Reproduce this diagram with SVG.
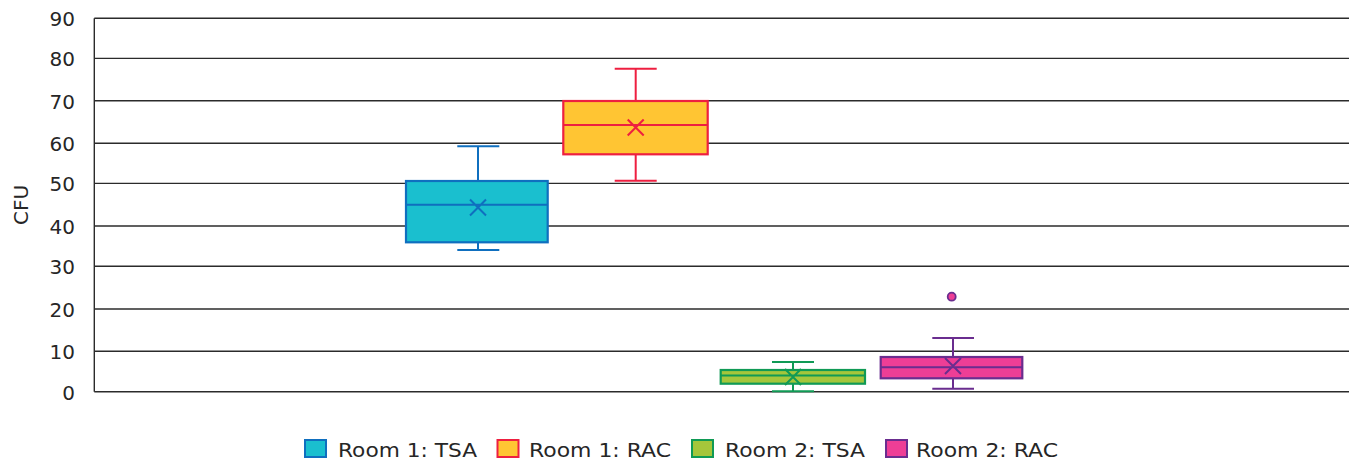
<svg xmlns="http://www.w3.org/2000/svg" width="1349" height="463" viewBox="0 0 1349 463">
<style>
.grid{stroke:#2b2b2b;stroke-width:1.4;fill:none}
.tick{font-family:"DejaVu Sans",Verdana,sans-serif;font-size:20px;fill:#262626;text-anchor:end}
.leg{font-family:"DejaVu Sans",Verdana,sans-serif;font-size:20px;fill:#262626}
.w{stroke-width:2;fill:none}
.b{stroke-width:2.2}
</style>
<rect width="1349" height="463" fill="#fff"/>
<g id="axes">
<line class="grid" x1="94.3" y1="18.3" x2="1349" y2="18.3"/>
<line class="grid" x1="94.3" y1="58.4" x2="1349" y2="58.4"/>
<line class="grid" x1="94.3" y1="100.7" x2="1349" y2="100.7"/>
<line class="grid" x1="94.3" y1="143.2" x2="1349" y2="143.2"/>
<line class="grid" x1="94.3" y1="183.4" x2="1349" y2="183.4"/>
<line class="grid" x1="94.3" y1="226" x2="1349" y2="226"/>
<line class="grid" x1="94.3" y1="266.2" x2="1349" y2="266.2"/>
<line class="grid" x1="94.3" y1="309" x2="1349" y2="309"/>
<line class="grid" x1="94.3" y1="351.2" x2="1349" y2="351.2"/>
<line class="grid" x1="94.3" y1="391.7" x2="1349" y2="391.7"/>
<line class="grid" x1="94.3" y1="18.3" x2="94.3" y2="391.7"/>
<text class="tick" x="75" y="26">90</text>
<text class="tick" x="75" y="66">80</text>
<text class="tick" x="75" y="108.5">70</text>
<text class="tick" x="75" y="151">60</text>
<text class="tick" x="75" y="191">50</text>
<text class="tick" x="75" y="233.5">40</text>
<text class="tick" x="75" y="274">30</text>
<text class="tick" x="75" y="316.5">20</text>
<text class="tick" x="75" y="358.5">10</text>
<text class="tick" x="75" y="399.5">0</text>
<text class="leg" transform="translate(27.5 205) rotate(-90)" text-anchor="middle" font-size="21">CFU</text>
</g>
<g id="room1-tsa">
<path class="w" stroke="#0f6fbf" d="M478 146.3V181M478 242.3V250M457.3 146.3H499.3M457.3 250H499.3"/>
<rect class="b" x="406" y="181" width="141.7" height="61.3" fill="#1abfcf" stroke="#0f6fbf"/>
<path class="w" stroke="#0f6fbf" d="M406 204.7H547.7M470 199.5L486 215.5M486 199.5L470 215.5"/>
</g>
<g id="room1-rac">
<path class="w" stroke="#ee1f40" d="M635.7 68.7V101M635.7 154.3V180.7M614.7 68.7H656.7M614.7 180.7H656.7"/>
<rect class="b" x="563.3" y="101" width="144.4" height="53.3" fill="#ffc533" stroke="#ee1f40"/>
<path class="w" stroke="#ee1f40" d="M563.3 125H707.7M627.7 119.5L643.7 135.5M643.7 119.5L627.7 135.5"/>
</g>
<g id="room2-tsa">
<path class="w" stroke="#109a55" d="M793 362V391.3M772 362H814M772 391.3H814"/>
<rect class="b" x="720.7" y="370" width="144.3" height="13.7" fill="#a5c63b" stroke="#109a55"/>
<path class="w" stroke="#109a55" d="M720.7 375.5H865M785 369L801 385M801 369L785 385"/>
</g>
<g id="room2-rac">
<path class="w" stroke="#6a2d8f" d="M953 338V357M953 378.3V388.7M932.3 338H974M932.3 388.7H974"/>
<rect class="b" x="880.7" y="357" width="141.6" height="21.3" fill="#ee3e96" stroke="#6a2d8f"/>
<path class="w" stroke="#6a2d8f" d="M880.7 367.3H1022.3M945 358L961 374M961 358L945 374"/>
<circle cx="951.7" cy="296.7" r="4" fill="#ee3e96" stroke="#6a2d8f" stroke-width="1.8"/>
</g>
<g id="legend">
<rect x="305" y="440" width="21" height="17" fill="#1abfcf" stroke="#0f6fbf" stroke-width="2"/>
<text class="leg" x="338" y="456.7" textLength="139" lengthAdjust="spacingAndGlyphs">Room 1: TSA</text>
<rect x="497.5" y="440" width="21" height="17" fill="#ffc533" stroke="#ee1f40" stroke-width="2"/>
<text class="leg" x="529" y="456.7" textLength="142" lengthAdjust="spacingAndGlyphs">Room 1: RAC</text>
<rect x="692" y="440" width="21" height="17" fill="#a5c63b" stroke="#109a55" stroke-width="2"/>
<text class="leg" x="725" y="456.7" textLength="140" lengthAdjust="spacingAndGlyphs">Room 2: TSA</text>
<rect x="886" y="440" width="21" height="17" fill="#ee3e96" stroke="#6a2d8f" stroke-width="2"/>
<text class="leg" x="916" y="456.7" textLength="142" lengthAdjust="spacingAndGlyphs">Room 2: RAC</text>
</g>
</svg>
